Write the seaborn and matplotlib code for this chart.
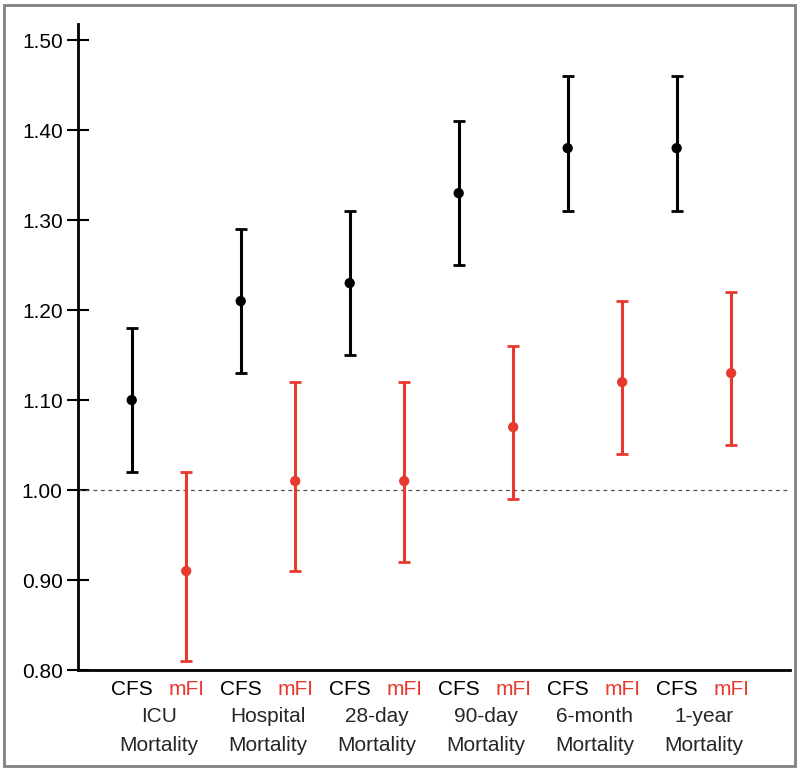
import numpy as np
import pandas as pd
import seaborn as sns
from matplotlib import pyplot as plt
from matplotlib.patches import Rectangle
import matplotlib.transforms as mtransforms

# outcome groups
outcomes = ['ICU\nMortality', 'Hospital\nMortality', '28-day\nMortality',
            '90-day\nMortality', '6-month\nMortality', '1-year\nMortality']

# odds ratios with 95% CI
cfs_or = [1.10, 1.21, 1.23, 1.33, 1.38, 1.38]
cfs_lo = [1.02, 1.13, 1.15, 1.25, 1.31, 1.31]
cfs_hi = [1.18, 1.29, 1.31, 1.41, 1.46, 1.46]

mfi_or = [0.91, 1.01, 1.01, 1.07, 1.12, 1.13]
mfi_lo = [0.81, 0.91, 0.92, 0.99, 1.04, 1.05]
mfi_hi = [1.02, 1.12, 1.12, 1.16, 1.21, 1.22]

yticks = [0.80, 0.90, 1.00, 1.10, 1.20, 1.30, 1.40, 1.50]

sns.set_style('white')
plt.rcParams['font.family'] = ['Liberation Sans', 'DejaVu Sans']

red = '#e8392f'
off = 0.25

df = pd.DataFrame({
    'grp': np.arange(len(outcomes)),
    'cfs': cfs_or, 'cfs_lo': cfs_lo, 'cfs_hi': cfs_hi,
    'mfi': mfi_or, 'mfi_lo': mfi_lo, 'mfi_hi': mfi_hi,
})

fig = plt.figure(figsize=(8, 7.73), dpi=100)
ax = fig.add_axes([78 / 800, 1 - 670 / 773, (790 - 78) / 800, (670 - 24) / 773])

# CFS series
ax.errorbar(df['grp'] - off, df['cfs'],
            yerr=[df['cfs'] - df['cfs_lo'], df['cfs_hi'] - df['cfs']],
            fmt='none', ecolor='black', elinewidth=2.2, capsize=4.5, capthick=2)
sns.scatterplot(x=df['grp'] - off, y=df['cfs'], color='black', s=55,
                edgecolor='none', ax=ax, zorder=3)

# mFI series
ax.errorbar(df['grp'] + off, df['mfi'],
            yerr=[df['mfi'] - df['mfi_lo'], df['mfi_hi'] - df['mfi']],
            fmt='none', ecolor=red, elinewidth=2.2, capsize=4.5, capthick=2)
sns.scatterplot(x=df['grp'] + off, y=df['mfi'], color=red, s=55,
                edgecolor='none', ax=ax, zorder=3)

# reference line
ax.axhline(1.0, color='#555555', linestyle=(0, (3, 3)), linewidth=0.9, zorder=1)

ax.set_xlim(-0.743, 5.79)
ax.set_ylim(0.80, 1.518)
ax.set_yticks(yticks)
ax.set_yticklabels([f'{v:.2f}' for v in yticks])
ax.tick_params(axis='y', left=True, direction='inout', length=16, width=1.5,
               labelsize=15, colors='black', pad=3)

ax.set_xticks(df['grp'])
ax.set_xticklabels(outcomes, fontsize=15, linespacing=1.65)
ax.tick_params(axis='x', bottom=False, length=0, pad=27, labelsize=15)

# series names under each pair
trans = mtransforms.blended_transform_factory(ax.transData, ax.transAxes)
for g in df['grp']:
    ax.text(g - off, -0.016, 'CFS', transform=trans, ha='center', va='top',
            fontsize=15, color='black')
    ax.text(g + off, -0.016, 'mFI', transform=trans, ha='center', va='top',
            fontsize=15, color=red)

for s in ['top', 'right']:
    ax.spines[s].set_visible(False)
for s in ['left', 'bottom']:
    ax.spines[s].set_linewidth(2)
    ax.spines[s].set_color('black')

ax.set_xlabel('')
ax.set_ylabel('')

# grey frame around the whole figure
fig.patches.append(Rectangle((4 / 800, 1 - 766 / 773), 791 / 800, 761 / 773,
                             transform=fig.transFigure, fill=False,
                             edgecolor='#808080', linewidth=2))

fig.savefig('out.png', dpi=100)
